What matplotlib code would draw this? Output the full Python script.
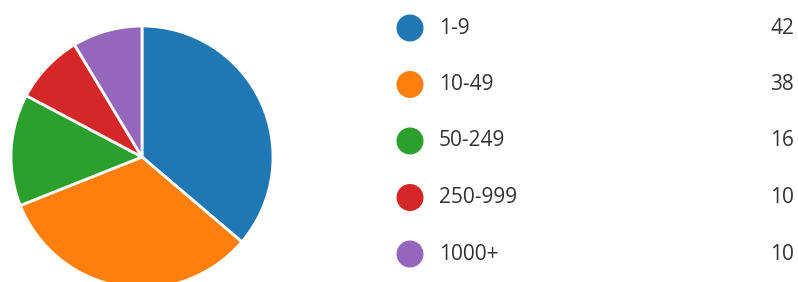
import matplotlib.pyplot as plt
from matplotlib.patches import Circle

# Datos
categorias = ['1-9', '10-49', '50-249', '250-999', '1000+']
valores = [42, 38, 16, 10, 10]
colores = ['#1f77b4', '#ff7f0e', '#2ca02c', '#d62728', '#9467bd']

W, H = 798, 282
fig = plt.figure(figsize=(W / 100, H / 100), dpi=100)
ax = fig.add_axes([0, 0, 1, 1])

# Tarta (en pixeles, y hacia arriba)
ax.pie(valores, colors=colores, startangle=90, counterclock=False,
       center=(142, H - 157), radius=131,
       wedgeprops=dict(edgecolor='white', linewidth=2))

# Leyenda a la derecha
y0, paso = 28, 56.5
for i, (cat, val, col) in enumerate(zip(categorias, valores, colores)):
    y = H - (y0 + i * paso)
    ax.add_patch(Circle((410, y), 13.5, color=col, lw=0))
    ax.text(439, y, cat, fontsize=15, color='#333333', va='center',
            ha='left', family='Open Sans')
    ax.text(794, y, str(val), fontsize=15, color='#333333', va='center',
            ha='right', family='Open Sans')

ax.set_xlim(0, W)
ax.set_ylim(0, H)
ax.set_aspect('equal')
ax.axis('off')

fig.savefig('out.png', dpi=100)
